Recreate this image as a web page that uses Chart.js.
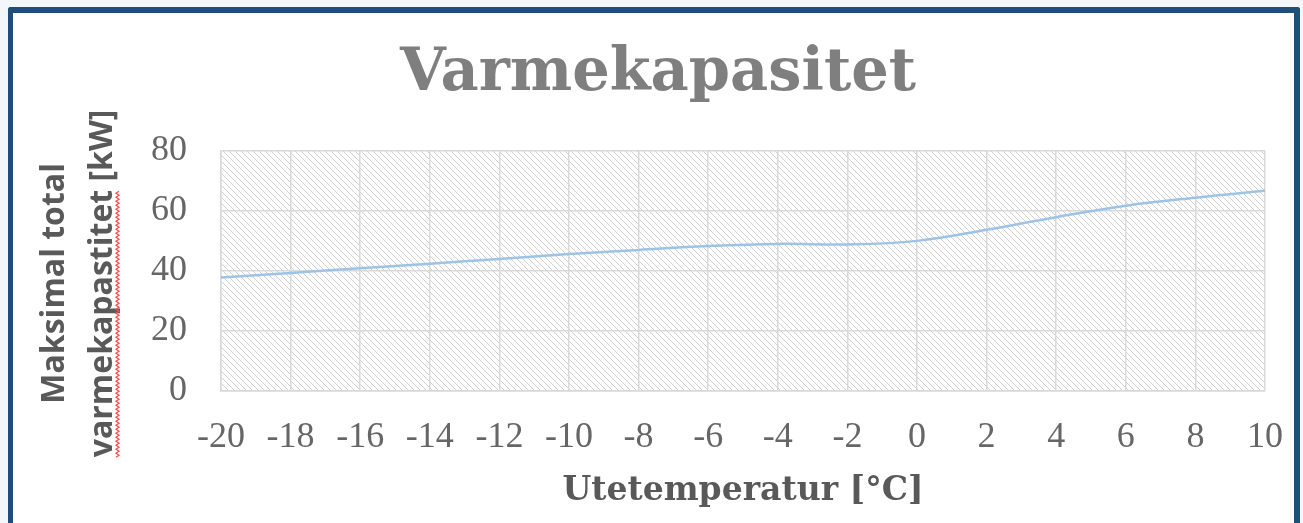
<!DOCTYPE html>
<html>
<head>
<meta charset="utf-8">
<script src="https://cdn.jsdelivr.net/npm/chart.js@4"></script>
<style>
  html, body { margin: 0; padding: 0; overflow: hidden; background: #f3f7fa; width: 1303px; height: 523px; }
  #frame {
    position: absolute; left: 8px; top: 7px;
    width: 1281px; height: 540px;
    border-style: solid; border-color: #1f4e79;
    border-width: 6px 6px 0 5px;
    border-radius: 3px 3px 0 0;
    background: #fff;
  }
  #wrap { position: absolute; left: 0; top: 0; width: 1281px; height: 510px; }
</style>
</head>
<body>
<div id="frame">
  <div id="wrap"><canvas id="heatChart"></canvas></div>
</div>
<script>
  // Utetemperatur [°C] og maksimal varmekapasitet [kW]
  var temperatures = [-20, -18, -16, -14, -12, -10, -8, -6, -4, -2, 0, 2, 4, 6, 8, 10];
  var capacity = [37.8, 39.3, 40.9, 42.4, 44.0, 45.6, 47.0, 48.3, 49.0, 48.8, 50.0, 53.7, 57.9, 61.7, 64.4, 66.7];
  var yTicks = [0, 20, 40, 60, 80];

  var points = temperatures.map(function (t, i) { return { x: t, y: capacity[i] }; });

  // skravert bakgrunn i plottområdet
  function hatchPattern(ctx) {
    var n = 6;
    var c = document.createElement('canvas');
    c.width = n; c.height = n;
    var g = c.getContext('2d');
    g.fillStyle = '#ffffff';
    g.fillRect(0, 0, n, n);
    g.strokeStyle = '#d0d0d0';
    g.lineWidth = 1;
    g.beginPath();
    g.moveTo(-1, -1); g.lineTo(n + 1, n + 1);
    g.moveTo(-1, n - 1); g.lineTo(1, n + 1);
    g.moveTo(n - 1, -1); g.lineTo(n + 1, 1);
    g.stroke();
    return ctx.createPattern(c, 'repeat');
  }

  var plotBackground = {
    id: 'plotBackground',
    beforeDraw: function (chart) {
      var a = chart.chartArea, ctx = chart.ctx;
      ctx.save();
      ctx.fillStyle = hatchPattern(ctx);
      ctx.fillRect(a.left, a.top, a.right - a.left, a.bottom - a.top);
      ctx.restore();
    }
  };

  var yTitleFont = "bold 32px 'Open Sans'";
  var yTitleLines = ['Maksimal total   ', 'varmekapastitet [kW]   '];
  var yTitlePad = -20;

  // rød stavekontroll-strek under "varmekapastitet"
  var spellMark = {
    id: 'spellMark',
    afterDraw: function (chart) {
      var s = chart.scales.y, ctx = chart.ctx;
      ctx.save();
      ctx.font = yTitleFont;
      var full = ctx.measureText(yTitleLines[1]).width;
      var word = ctx.measureText('varmekapastitet').width;
      var cy = (s.top + s.bottom) / 2;
      var x = s.left + yTitlePad + 24 + 48 + 13;
      var y0 = cy + full / 2, y1 = y0 - word;
      ctx.strokeStyle = '#ff4a4a';
      ctx.lineWidth = 1.3;
      ctx.beginPath();
      var k = 0;
      for (var y = y0; y >= y1; y -= 2, k++) {
        var xx = x + (k % 2 ? 3 : 0);
        if (k === 0) ctx.moveTo(xx, y); else ctx.lineTo(xx, y);
      }
      ctx.stroke();
      ctx.restore();
    }
  };

  new Chart(document.getElementById('heatChart'), {
    type: 'line',
    data: {
      datasets: [{
        data: points,
        borderColor: '#9dc3e6',
        borderWidth: 2.5,
        pointRadius: 0,
        tension: 0.4,
        fill: false
      }]
    },
    options: {
      responsive: true,
      maintainAspectRatio: false,
      animation: false,
      layout: { padding: { left: 38, right: 29, top: 0, bottom: 0 } },
      plugins: {
        legend: { display: false },
        tooltip: { enabled: false },
        title: {
          display: true,
          text: 'Varmekapasitet',
          color: '#7f7f7f',
          font: { family: "'DejaVu Serif'", size: 59, weight: 'bold', lineHeight: 1.2 },
          padding: { top: 26, bottom: 41 }
        }
      },
      scales: {
        x: {
          type: 'linear',
          min: -20,
          max: 10,
          afterFit: function (scale) {
            scale.height = 132;
            scale.paddingLeft = 0;
            scale.paddingRight = 0;
          },
          grid: { color: '#d9d9d9', lineWidth: 1.5, drawTicks: false },
          border: { display: true, color: '#d9d9d9', width: 1.5 },
          ticks: {
            stepSize: 2,
            padding: 25,
            color: '#666666',
            font: { family: "'Liberation Serif'", size: 36, lineHeight: 1.2 }
          },
          title: {
            display: true,
            text: 'Utetemperatur [°C]',
            color: '#595959',
            font: { family: "'DejaVu Serif'", size: 33, weight: 'bold', lineHeight: 1.2 },
            padding: { top: 0, bottom: 12 }
          }
        },
        y: {
          min: 0,
          max: 80,
          afterFit: function (scale) { scale.width = 170; },
          afterBuildTicks: function (scale) {
            scale.ticks = yTicks.map(function (v) { return { value: v }; });
          },
          grid: { color: '#d9d9d9', lineWidth: 1.5, drawTicks: false },
          border: { display: true, color: '#d9d9d9', width: 1.5 },
          ticks: {
            padding: 34,
            color: '#666666',
            font: { family: "'Liberation Serif'", size: 36, lineHeight: 1.2 }
          },
          title: {
            display: true,
            text: yTitleLines,
            color: '#595959',
            font: { family: "'Open Sans'", size: 32, weight: 'bold', lineHeight: 1.5 },
            padding: { top: yTitlePad, bottom: 0 }
          }
        }
      }
    },
    plugins: [plotBackground, spellMark]
  });
</script>
</body>
</html>
